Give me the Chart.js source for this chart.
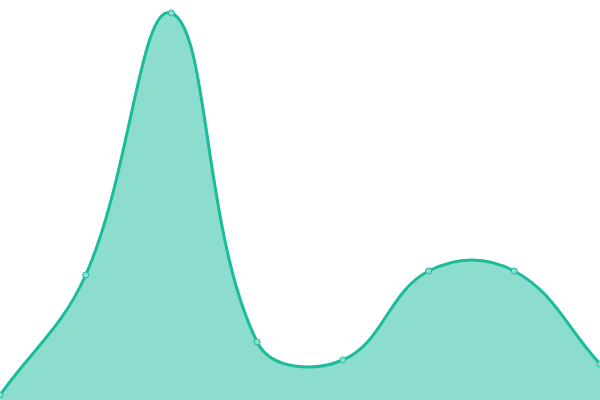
<!DOCTYPE html>
<html>
<head>
<meta charset="utf-8">
<script src="https://cdn.jsdelivr.net/npm/chart.js@4/dist/chart.umd.min.js"></script>
<style>
  html, body { margin: 0; padding: 0; background: #fff; }
  #wrap { width: 600px; height: 400px; }
</style>
</head>
<body>
<div id="wrap"><canvas id="areaChart"></canvas></div>
<script>
// Duomenys
const labels = ['1', '2', '3', '4', '5', '6', '7', '8'];
const values = [5, 125, 387, 58, 40, 129, 129, 36];
const yMin = 0;
const yMax = 400;

const ctx = document.getElementById('areaChart').getContext('2d');
const chart = new Chart(ctx, {
    type: 'line',
    data: {
        labels: labels,
        datasets: [
            {
                data: values,
                borderColor: '#1abc9c',
                backgroundColor: 'rgba(26, 188, 156, 0.5)',
                borderWidth: 3,
                fill: 'start',
                tension: 0.4,
                pointRadius: 3,
                pointBorderWidth: 1,
                pointBackgroundColor: '#8ddece',
                pointBorderColor: '#1abc9c'
            }
        ]
    },
    options: {
        responsive: true,
        maintainAspectRatio: false,
        animation: false,
        layout: { padding: 0, autoPadding: false },
        plugins: {
            legend: { display: false },
            tooltip: { enabled: false }
        },
        scales: {
            x: { display: false },
            y: { display: false, min: yMin, max: yMax }
        }
    }
});
</script>
</body>
</html>
